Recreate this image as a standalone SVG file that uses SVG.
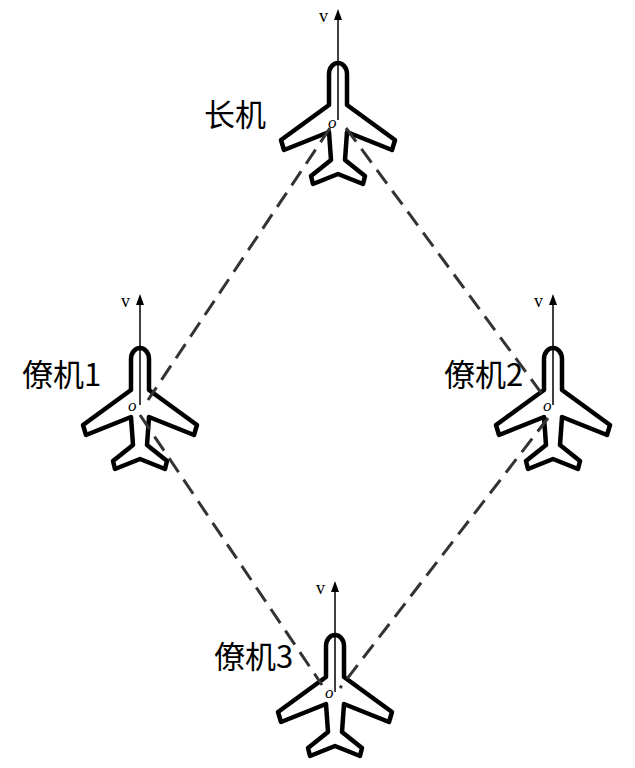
<svg xmlns="http://www.w3.org/2000/svg" width="635" height="768" viewBox="0 0 635 768">
<style>
.pl{fill:#fff;stroke:#000;stroke-width:4.5;stroke-linejoin:round}
.ax{stroke:#000;stroke-width:1.5}
.dash{stroke:#333;stroke-width:3;stroke-dasharray:17 9;fill:none}
.lb{font-family:"Noto Sans CJK SC","Liberation Sans",sans-serif;font-size:31px;fill:#000}
.v{font-family:"Liberation Serif",serif;font-size:18px}
.o{font-family:"Liberation Serif",serif;font-size:17px;font-style:italic}
</style>
<defs>
<path id="plane" d="M-9,14 A9,11 0 0 1 9,14 L9,45 L57,80 L54,90 L9,72 L7,100 L27,116 L25,124 L0,114 L-25,124 L-27,116 L-7,100 L-9,72 L-54,90 L-57,80 L-9,45 Z"/>
<path id="ah" d="M-4,0 L0,-11 L4,0 Z"/>
</defs>
<g id="leader" transform="translate(338,60)">
<use href="#plane" class="pl"/>
<line class="ax" x1="0" y1="60" x2="0" y2="-45"/>
<use href="#ah" y="-40"/>
<text class="v" x="-19" y="-38">v</text>
<text class="o" x="-10" y="68">o</text>
</g>
<g id="w1" transform="translate(140,345)">
<use href="#plane" class="pl"/>
<line class="ax" x1="0" y1="60" x2="0" y2="-45"/>
<use href="#ah" y="-40"/>
<text class="v" x="-19" y="-38">v</text>
<text class="o" x="-12" y="66">o</text>
</g>
<g id="w2" transform="translate(553,345)">
<use href="#plane" class="pl"/>
<line class="ax" x1="0" y1="60" x2="0" y2="-45"/>
<use href="#ah" y="-40"/>
<text class="v" x="-19" y="-38">v</text>
<text class="o" x="-10" y="66">o</text>
</g>
<g id="w3" transform="translate(335,632)">
<use href="#plane" class="pl"/>
<line class="ax" x1="0" y1="60" x2="0" y2="-45"/>
<use href="#ah" y="-40"/>
<text class="v" x="-19" y="-38">v</text>
<text class="o" x="-10" y="66">o</text>
</g>
<g id="connectors">
<line class="dash" x1="330" y1="128" x2="148" y2="400"/>
<line class="dash" x1="346" y1="128" x2="545" y2="398"/>
<line class="dash" x1="140" y1="415" x2="322" y2="685"/>
<line class="dash" x1="548" y1="418" x2="340" y2="688"/>
</g>
<g id="labels">
<text class="lb" x="204" y="126">长机</text>
<text class="lb" x="22" y="386">僚机1</text>
<text class="lb" x="444" y="386">僚机2</text>
<text class="lb" x="214" y="668">僚机3</text>
</g>
</svg>
